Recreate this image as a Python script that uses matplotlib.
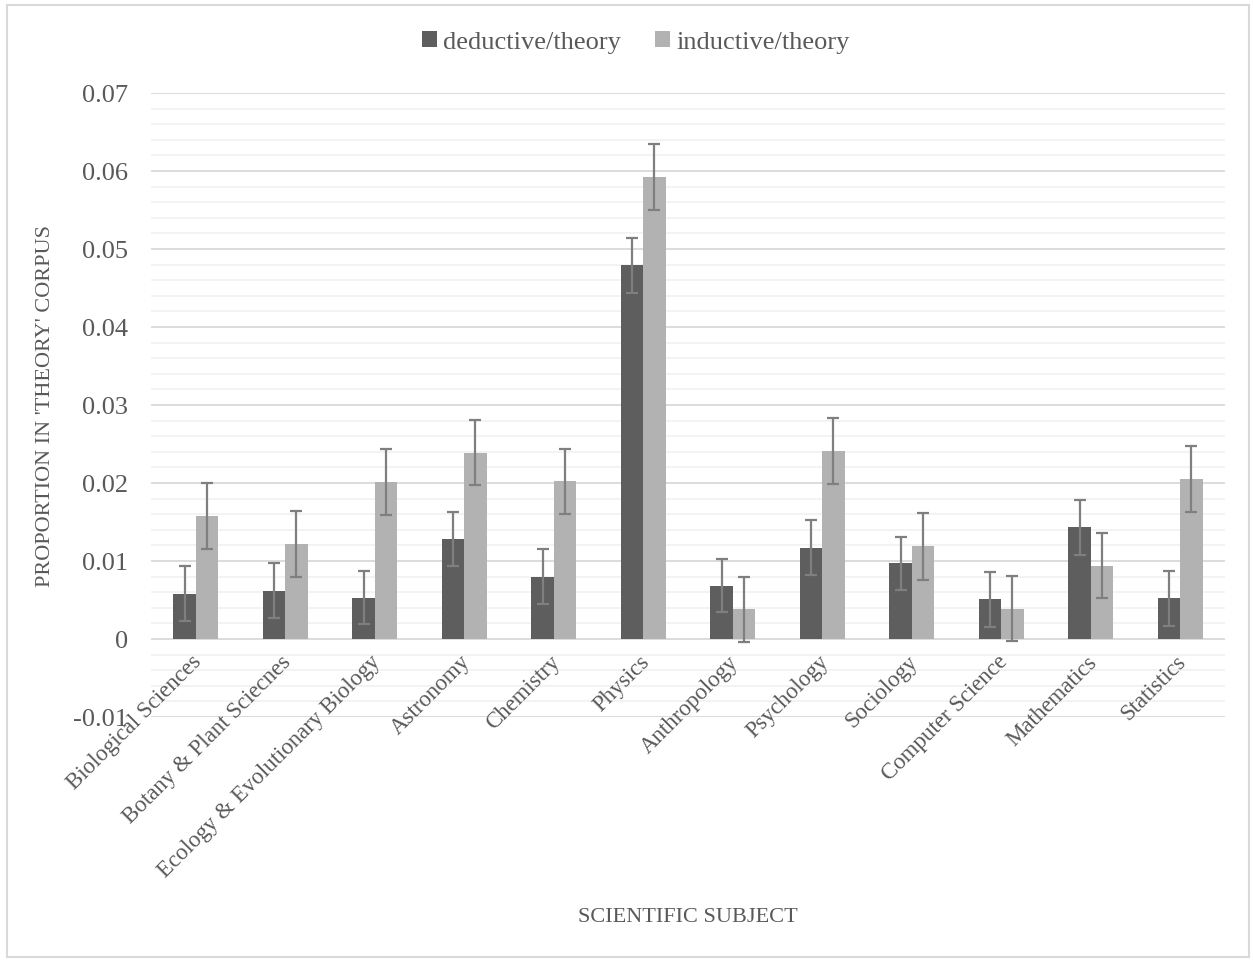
import matplotlib.pyplot as plt
import numpy as np
from matplotlib.patches import Rectangle

subjects = ['Biological Sciences', 'Botany & Plant Sciecnes', 'Ecology & Evolutionary Biology',
            'Astronomy', 'Chemistry', 'Physics', 'Anthropology', 'Psychology', 'Sociology',
            'Computer Science', 'Mathematics', 'Statistics']
deductive = [0.0058, 0.0062, 0.0053, 0.0128, 0.0080, 0.0479, 0.0068, 0.0117, 0.0097, 0.0051, 0.0143, 0.0052]
inductive = [0.0158, 0.0122, 0.0201, 0.0239, 0.0202, 0.0592, 0.0038, 0.0241, 0.0119, 0.0039, 0.0094, 0.0205]
deductive_err = [0.0035, 0.0035, 0.0034, 0.0035, 0.0035, 0.0035, 0.0034, 0.0035, 0.0034, 0.0035, 0.0035, 0.0035]
inductive_err = [0.0042, 0.0042, 0.0042, 0.0042, 0.0042, 0.0042, 0.0042, 0.0042, 0.0043, 0.0042, 0.0042, 0.0042]

TEXT = '#595959'
plt.rcParams['font.family'] = ['Liberation Serif', 'DejaVu Serif']

fig = plt.figure(figsize=(12.53, 9.62), dpi=100)
fig.patches.append(Rectangle((7 / 1253, 4 / 962), 1242 / 1253, 952 / 962, transform=fig.transFigure,
                             fill=False, edgecolor='#d9d9d9', linewidth=1.5))
ax = fig.add_axes([151 / 1253, 1 - 718 / 962, 1074 / 1253, 624 / 962])

x = np.arange(len(subjects))
w = 0.25
ax.bar(x - w / 2, deductive, w, color='#5e5e5e', label='deductive/theory', zorder=3)
ax.bar(x + w / 2, inductive, w, color='#b2b2b2', label='inductive/theory', zorder=3)
ax.errorbar(x - w / 2, deductive, yerr=deductive_err, fmt='none', ecolor='#7f7f7f',
            elinewidth=1.6, capsize=4.5, capthick=1.6, zorder=4)
ax.errorbar(x + w / 2, inductive, yerr=inductive_err, fmt='none', ecolor='#7f7f7f',
            elinewidth=1.6, capsize=4.5, capthick=1.6, zorder=4)

ax.set_xlim(-0.5, len(subjects) - 0.5)
ax.set_ylim(-0.01, 0.07)
ax.set_yticks(np.arange(-0.01, 0.0701, 0.01))
ax.set_yticklabels(['-0.01', '0', '0.01', '0.02', '0.03', '0.04', '0.05', '0.06', '0.07'])
ax.set_yticks(np.arange(-0.01, 0.0701, 0.002), minor=True)
ax.grid(axis='y', which='major', color='#d9d9d9', linewidth=1.3, zorder=0)
ax.grid(axis='y', which='minor', color='#f2f2f2', linewidth=1.3, zorder=0)
ax.tick_params(axis='y', which='both', length=0, labelsize=19, labelcolor=TEXT, pad=16.5)
ax.set_xticks([])
for s in ax.spines.values():
    s.set_visible(False)

for i, name in enumerate(subjects):
    ax.text(i - 0.05, -0.0015, name, rotation=45, ha='right', va='top', rotation_mode='anchor',
            fontsize=16.5, color=TEXT)

ax.set_ylabel("PROPORTION IN 'THEORY' CORPUS", fontsize=16, color=TEXT, labelpad=13)
fig.text(688 / 1253, 1 - 918 / 962, 'SCIENTIFIC SUBJECT', ha='center', va='center', fontsize=16, color=TEXT)

fig.legend(loc='center', bbox_to_anchor=(636 / 1253, 1 - 43 / 962), ncol=2, frameon=False,
           fontsize=19, labelcolor=TEXT, handlelength=0.55, handleheight=0.55, handletextpad=0.25,
           columnspacing=1.3)

fig.savefig('out.png', dpi=100)
